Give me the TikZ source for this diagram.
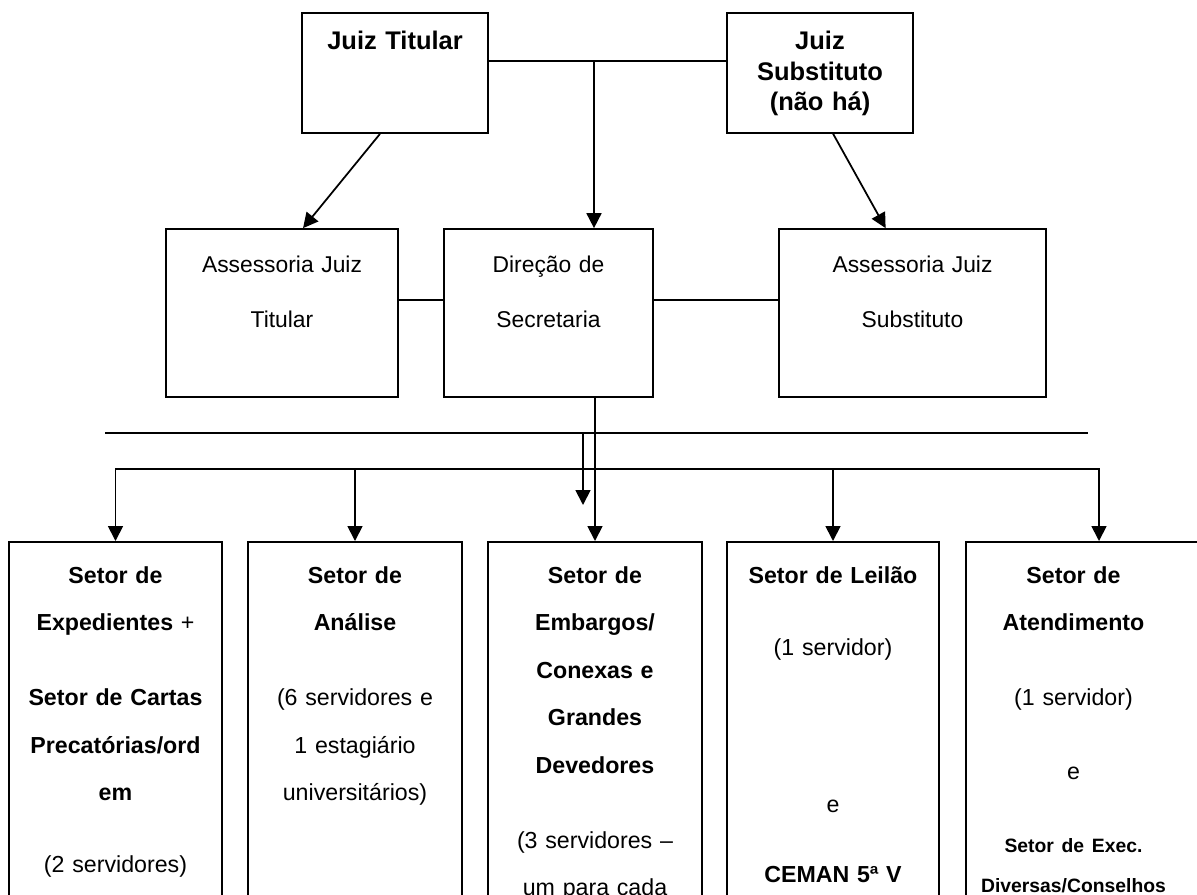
\documentclass[tikz,border=0pt]{standalone}
\usepackage{fontspec}
\setmainfont{Liberation Sans}
\usetikzlibrary{arrows.meta, positioning, calc}
\tikzset{
  orgbox/.style={
    rectangle, draw=black, line width=1pt,
    inner sep=0pt
  },
  topbox/.style={orgbox, minimum width=3.72cm, minimum height=2.4cm},
  midbox/.style={orgbox, minimum height=3.36cm},
  setorbox/.style={orgbox, minimum height=8cm, anchor=north},
  boxtext/.style={anchor=north, inner sep=0pt, align=center},
  toptext/.style={boxtext, text width=3.6cm,
    font=\fontsize{14.5}{17.6}\selectfont\bfseries},
  midtext/.style={boxtext, text width=4.1cm,
    font=\fontsize{13}{31.3}\selectfont},
  setortext/.style={boxtext, text width=4.2cm,
    font=\fontsize{13.2}{27}\selectfont},
  arrow/.style={-{Triangle[width=0.3cm, length=0.3cm]}, line width=1pt},
  link/.style={line width=1pt}
}

\begin{document}
\begin{tikzpicture}[x=0.02cm, y=0.02cm]
  \useasboundingbox (0,0) rectangle (1197,-894);
  \clip (0,0) rectangle (1197,-894);

  % Judges
  \node[topbox] (jt) at (395,-73) {};
  \node[topbox] (js) at (820,-73) {};
  \node[toptext, below=0.3cm of jt.north] (jt-t) {\strut Juiz Titular};
  \node[toptext, below=0.3cm of js.north] (js-t) {\strut Juiz\\ Substituto\\ (não há)};

  % Assessorias and Direcao
  \node[midbox, minimum width=4.64cm] (ajt) at (282,-313) {};
  \node[midbox, minimum width=4.18cm] (dir) at (548.5,-313) {};
  \node[midbox, minimum width=5.34cm] (ajs) at (912.5,-313) {};
  \node[midtext, below=0.11cm of ajt.north] (ajt-t) {\strut Assessoria Juiz\\ Titular};
  \node[midtext, below=0.11cm of dir.north] (dir-t) {\strut Direção de\\ Secretaria};
  \node[midtext, below=0.11cm of ajs.north] (ajs-t) {\strut Assessoria Juiz\\ Substituto};

  % Setores
  \node[setorbox, minimum width=4.26cm] (s1) at (115.5,-541) {};
  \node[setorbox, minimum width=4.28cm] (s2) at (355,-541) {};
  \node[setorbox, minimum width=4.28cm] (s3) at (595,-541) {};
  \node[setorbox, minimum width=4.24cm] (s4) at (833,-541) {};
  \node[setorbox, minimum width=5.32cm] (s5) at (1099,-541) {};

  \node[setortext, below=0.174cm of s1.north] (s1-t) {\strut
    \textbf{Setor de}\\ \textbf{Expedientes} +\\[15.7pt]
    \textbf{Setor de Cartas}\\ \textbf{Precatórias/ord}\\ \textbf{em}\\[14pt]
    (2 servidores)};
  \node[setortext, below=0.174cm of s2.north] (s2-t) {\strut
    \textbf{Setor de}\\ \textbf{Análise}\\[15.7pt]
    (6 servidores e\\ 1 estagiário\\ universitários)};
  \node[setortext, below=0.174cm of s3.north] (s3-t) {\strut
    \textbf{Setor de}\\ \textbf{Embargos/}\\ \textbf{Conexas e}\\ \textbf{Grandes}\\ \textbf{Devedores}\\[15.7pt]
    (3 servidores --\\ um para cada};
  \node[setortext, below=0.174cm of s4.north] (s4-t) {\strut
    \textbf{Setor de Leilão}\\[13.9pt] (1 servidor)\\[62.8pt] e\\[12.8pt]
    \textbf{CEMAN 5ª V}};
  \node[setortext, below=0.174cm of s5.north, xshift=-0.51cm] (s5-t) {\strut
    \textbf{Setor de}\\ \textbf{Atendimento}\\[15.7pt] (1 servidor)\\[15.1pt] e\\[14.5pt]
    {\fontsize{11}{13}\selectfont\bfseries Setor de Exec.}\\[-4.2pt]
    {\fontsize{11}{13}\selectfont\bfseries Diversas/Conselhos}};

  % Judges links
  \draw[link] ([yshift=0.24cm]jt.east) -- ([yshift=0.24cm]js.west);
  \coordinate (split) at (594,-61);
  \draw[arrow] (split) -- (split |- dir.north);
  \draw[arrow] ($(jt.south west)!0.42!(jt.south east)$) -- ($(ajt.north west)!0.59!(ajt.north east)$);
  \draw[arrow] ($(js.south west)!0.57!(js.south east)$) -- ($(ajs.north west)!0.40!(ajs.north east)$);

  % Side links
  \draw[link] ([yshift=0.26cm]ajt.east) -- ([yshift=0.26cm]dir.west);
  \draw[link] ([yshift=0.26cm]dir.east) -- ([yshift=0.26cm]ajs.west);

  % Lines down to the setores
  \coordinate (barL) at (105,-433);
  \coordinate (barR) at (1088,-433);
  \draw[link] (barL) -- (barR);
  \coordinate (stub) at (583,-433);
  \coordinate (stubend) at (583,-505);
  \draw[arrow] (stub) -- (stubend);
  \draw[arrow] (s3.north |- dir.south) -- (s3.north);
  \coordinate (bus) at (0,-469);
  \draw[link, line cap=rect] (s1.north |- bus) -- (s5.north |- bus);
  \foreach \s in {s1,s2,s4,s5}
    \draw[arrow] (\s.north |- bus) -- (\s.north);

\end{tikzpicture}
\end{document}
